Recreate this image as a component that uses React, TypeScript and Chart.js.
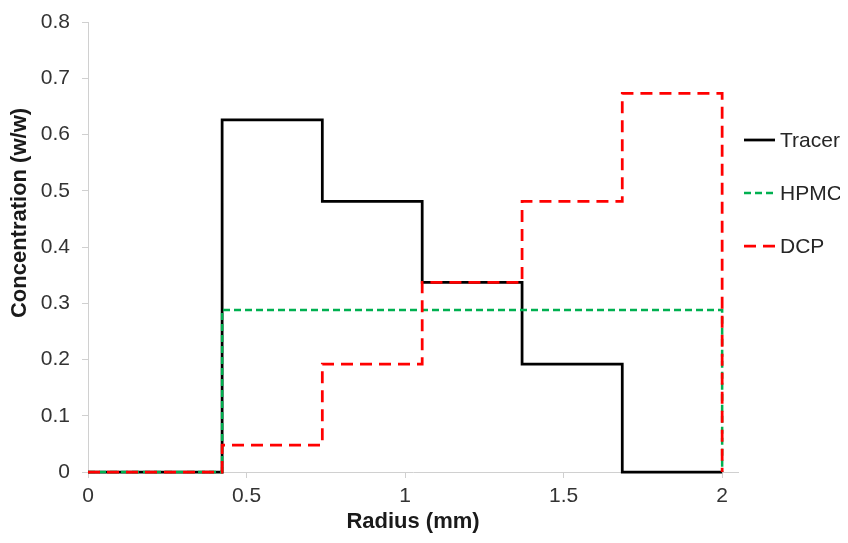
import React, { useEffect, useRef } from "react";
import { Chart, registerables } from "chart.js";

Chart.register(...registerables);

// ---- data ----
const seriesNames = ["Tracer", "HPMC", "DCP"];
const radiusEdges = [0, 0.423, 0.739, 1.054, 1.369, 1.685, 2.0];
const tracerValues = [0, 0.626, 0.481, 0.337, 0.192, 0, 0];
const hpmcValues = [0, 0.288, 0.288, 0.288, 0.288, 0.288, 0];
const dcpValues = [0, 0.048, 0.192, 0.337, 0.481, 0.673, 0];
const xTickValues = [0, 0.5, 1, 1.5, 2];
const yTickValues = [0, 0.1, 0.2, 0.3, 0.4, 0.5, 0.6, 0.7, 0.8];
const xTitle = "Radius (mm)";
const yTitle = "Concentration (w/w)";

const FONT = "'Liberation Sans', Arial, Helvetica, sans-serif";
const AXIS_GRAY = "#d0d0d0";

const toPoints = (vals: number[]) => radiusEdges.map((x, i) => ({ x, y: vals[i] }));

const yTitlePlugin = {
  id: "yTitlePlugin",
  afterDraw(chart: any) {
    const { ctx, chartArea } = chart;
    ctx.save();
    ctx.translate(12, (chartArea.top + chartArea.bottom) / 2 - 34);
    ctx.rotate(-Math.PI / 2);
    ctx.font = `bold 22px ${FONT}`;
    ctx.fillStyle = "#1a1a1a";
    ctx.textAlign = "center";
    ctx.textBaseline = "middle";
    ctx.fillText(yTitle, 0, 0);
    ctx.restore();
  },
};

const legendPlugin = {
  id: "sideLegend",
  afterDraw(chart: any) {
    const { ctx, chartArea } = chart;
    const x0 = chartArea.right + 6;
    chart.data.datasets.forEach((ds: any, i: number) => {
      const y = 132 + 53 * i;
      ctx.save();
      ctx.strokeStyle = ds.borderColor;
      ctx.lineWidth = ds.borderWidth;
      ctx.setLineDash(ds.borderDash || []);
      ctx.beginPath();
      ctx.moveTo(x0, y);
      ctx.lineTo(x0 + 31, y);
      ctx.stroke();
      ctx.setLineDash([]);
      ctx.font = `21px ${FONT}`;
      ctx.fillStyle = "#262626";
      ctx.textAlign = "left";
      ctx.textBaseline = "middle";
      ctx.fillText(ds.label, x0 + 36, y + 1);
      ctx.restore();
    });
  },
};

export default function App() {
  const canvasRef = useRef<HTMLCanvasElement | null>(null);

  useEffect(() => {
    if (!canvasRef.current) return;
    const chart = new Chart(canvasRef.current, {
      type: "line",
      data: {
        datasets: [
          {
            label: seriesNames[0],
            data: toPoints(tracerValues),
            borderColor: "#000000",
            borderWidth: 2.75,
            stepped: "before",
            pointRadius: 0,
            fill: false,
            order: 2,
            clip: false,
          } as any,
          {
            label: seriesNames[1],
            data: toPoints(hpmcValues),
            borderColor: "#00b050",
            borderWidth: 2.5,
            borderDash: [7, 4],
            stepped: "before",
            pointRadius: 0,
            fill: false,
            order: 1,
            clip: false,
          },
          {
            label: seriesNames[2],
            data: toPoints(dcpValues),
            borderColor: "#ff0000",
            borderWidth: 2.75,
            borderDash: [12, 7],
            stepped: "before",
            pointRadius: 0,
            fill: false,
            order: 0,
            clip: false,
          },
        ],
      },
      options: {
        animation: false,
        responsive: true,
        maintainAspectRatio: false,
        layout: { padding: { top: 14, right: 102, left: 0, bottom: 0 } },
        plugins: { legend: { display: false }, tooltip: { enabled: false } },
        scales: {
          x: {
            type: "linear",
            min: 0,
            max: 2.05,
            afterBuildTicks: (scale: any) => {
              scale.ticks = xTickValues.map((v) => ({ value: v }));
            },
            afterFit: (scale: any) => {
              scale.height = 63;
              scale.paddingLeft = 0;
              scale.paddingRight = 0;
            },
            ticks: {
              font: { family: FONT, size: 21 },
              color: "#333333",
              padding: 6,
              maxRotation: 0,
              callback: (v: any) => String(v),
            },
            grid: { drawOnChartArea: false, drawTicks: true, tickLength: 6, color: AXIS_GRAY },
            border: { display: true, color: AXIS_GRAY, width: 1 },
            title: {
              display: true,
              text: xTitle,
              font: { family: FONT, size: 22, weight: "bold" },
              color: "#1a1a1a",
              padding: { top: 0, bottom: 0 },
            },
          },
          y: {
            type: "linear",
            min: 0,
            max: 0.8,
            afterBuildTicks: (scale: any) => {
              scale.ticks = yTickValues.map((v) => ({ value: v }));
            },
            afterFit: (scale: any) => {
              scale.width = 80;
              scale.paddingTop = 0;
              scale.paddingBottom = 0;
            },
            ticks: {
              font: { family: FONT, size: 21 },
              color: "#333333",
              padding: 12,
              callback: (v: any) => String(Math.round(Number(v) * 10) / 10),
            },
            grid: { drawOnChartArea: false, drawTicks: true, tickLength: 6, color: AXIS_GRAY },
            border: { display: true, color: AXIS_GRAY, width: 1 },
          },
        },
      },
      plugins: [yTitlePlugin, legendPlugin],
    });
    return () => chart.destroy();
  }, []);

  return (
    <div style={{ width: 832, height: 527, position: "relative" }}>
      <canvas ref={canvasRef} />
    </div>
  );
}
